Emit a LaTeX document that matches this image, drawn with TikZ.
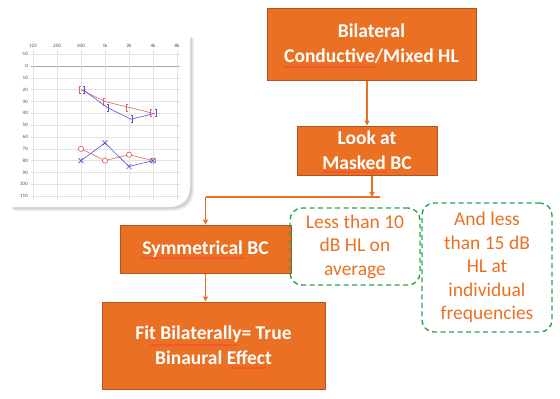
\documentclass[tikz,border=0pt]{standalone}
\usepackage{fontspec}
\setmainfont{Carlito}
\usetikzlibrary{arrows.meta,shadows,decorations.pathmorphing}
\definecolor{boxor}{RGB}{234,112,36}
\definecolor{boxedge}{RGB}{178,84,30}
\definecolor{dgreen}{RGB}{38,168,78}
\definecolor{agred}{RGB}{232,96,96}
\definecolor{agblue}{RGB}{80,80,225}
\definecolor{gridg}{RGB}{226,226,226}
\begin{document}
\begin{tikzpicture}[x=1pt,y=-1pt,
  obox/.style={draw=boxedge,line width=1pt,fill=boxor,text=white,font=\fontsize{19.5}{25}\selectfont\bfseries,align=center,inner sep=0pt},
  dbox/.style={draw=dgreen,line width=1.4pt,dash pattern=on 5pt off 3.5pt,rounded corners=12pt,text=boxor,font=\fontsize{19.5}{23.5}\selectfont,align=center,inner sep=0pt},
  arr/.style={draw=boxor,line width=1.2pt,-{Triangle[length=5pt,width=5pt]}},
  link/.style={draw=boxor,line width=1.2pt},
  spell/.style={draw=red!75,line width=0.5pt,decorate,decoration={snake,amplitude=0.6pt,segment length=2pt}},
  axl/.style={font=\fontsize{5}{5}\selectfont,text=black!70,inner sep=0pt},
  agline/.style={line width=0.6pt}]
\useasboundingbox (0,0) rectangle (560,399);
% audiogram card shadow
\foreach \o/\s in {0.05/4,0.06/3,0.08/2}{
  \fill[black,opacity=\o]
    (10+\s,57+\s) .. controls (10+\s,44+\s) and (17+\s,35+\s) .. (32+\s,35+\s) -- (190+\s,35+\s) -- (190+\s,186+\s)
    .. controls (190+\s,199+\s) and (183+\s,207+\s) .. (168+\s,207+\s) -- (10+\s,207+\s) -- cycle;
}
\fill[white]
  (10,57) .. controls (10,44) and (17,35) .. (32,35) -- (190,35) -- (190,186)
  .. controls (190,199) and (183,207) .. (168,207) -- (10,207) -- cycle;
% grid
\foreach \d [count=\i from 0] in {-10,0,10,20,30,40,50,60,70,80,90,100,110}{
  \pgfmathsetmacro{\yy}{54.2+\i*11.83}
  \draw[gridg,line width=0.4pt] (31,\yy) -- (180,\yy);
  \node[axl,anchor=east] (r\i) at (28,\yy) {\d};
}
\draw[black!35,line width=0.6pt] (31,66) -- (180,66);
\foreach \f [count=\i from 0] in {125,250,500,1k,2k,4k,8k}{
  \pgfmathsetmacro{\xx}{33+\i*24}
  \draw[gridg,line width=0.4pt] (\xx,50) -- (\xx,200);
  \node[axl] (c\i) at (\xx,46) {\f};
}
% red brackets (masked BC right)
\draw[agred,agline] (81,89.7) -- (105,101.5) -- (129,107.4) -- (153,113.3);
\foreach \x/\y in {79/89.7,103/101.5,126/107.4,150/113.3}{
  \draw[agred,line width=0.7pt] (\x+1.5,\y-3.5) -- (\x,\y-3.5) -- (\x,\y+3.5) -- (\x+1.5,\y+3.5);
}
% blue brackets (masked BC left)
\draw[agblue,agline] (83,89.7) -- (107,107.4) -- (131,119.2) -- (155,113.3);
\foreach \x/\y in {84/89.7,108/107.4,132/119.2,156/113.3}{
  \draw[agblue,line width=0.7pt] (\x-1.5,\y-3.5) -- (\x,\y-3.5) -- (\x,\y+3.5) -- (\x-1.5,\y+3.5);
}
% red circles (AC right)
\draw[agred,agline] (81,148.8) -- (105,160.6) -- (129,154.7) -- (153,160.6);
\foreach \x/\y in {81/148.8,105/160.6,129/154.7,153/160.6}{
  \draw[agred,fill=white,line width=0.7pt] (\x,\y) circle (2.6);
}
% blue crosses (AC left)
\draw[agblue,agline] (81,160.6) -- (105,142.9) -- (129,166.5) -- (153,160.6);
\foreach \x/\y in {81/160.6,105/142.9,129/166.5,153/160.6}{
  \draw[agblue,line width=0.7pt] (\x-2.5,\y-2.5) -- (\x+2.5,\y+2.5) (\x-2.5,\y+2.5) -- (\x+2.5,\y-2.5);
}
% flowchart
\node[obox,minimum width=209pt,minimum height=72pt] (b1) at (371.5,44) {Bilateral\\Conductive/Mixed HL};
\node[obox,minimum width=140pt,minimum height=49pt] (b2) at (367,150.5) {Look at\\Masked BC};
\node[obox,minimum width=171pt,minimum height=48pt] (b3) at (205.5,249) {Symmetrical BC};
\node[obox,minimum width=223pt,minimum height=87pt] (b4) at (213.5,345.5) {Fit Bilaterally= True\\Binaural Effect};
\node[dbox,minimum width=130pt,minimum height=77pt] (d1) at (355,246.5) {Less than 10\\dB HL on\\average};
\node[dbox,minimum width=130pt,minimum height=129pt] (d2) at (487,267.5) {And less\\than 15 dB\\HL at\\individual\\frequencies};
\coordinate (jr) at (380,197);
\coordinate (jl) at (b3.north |- jr);
\coordinate (b2out) at ([xshift=5pt]b2.south);
\draw[arr] (b2.north |- b1.south) -- (b2.north);
\draw[arr] (b2out) -- (b2out |- jr);
\draw[link] (jr) -- (jl);
\draw[arr] (jl) -- (b3.north);
\draw[arr] (b3.south) -- (b3.south |- b4.north);
% spell-check underlines
\draw[spell] (283,67) -- (376,67);
\draw[spell] (322,172) -- (387,172);
\draw[spell] (141,258) -- (245,258);
\draw[spell] (150,345) -- (238,345);
\draw[spell] (230,368) -- (267,368);
\end{tikzpicture}
\end{document}
